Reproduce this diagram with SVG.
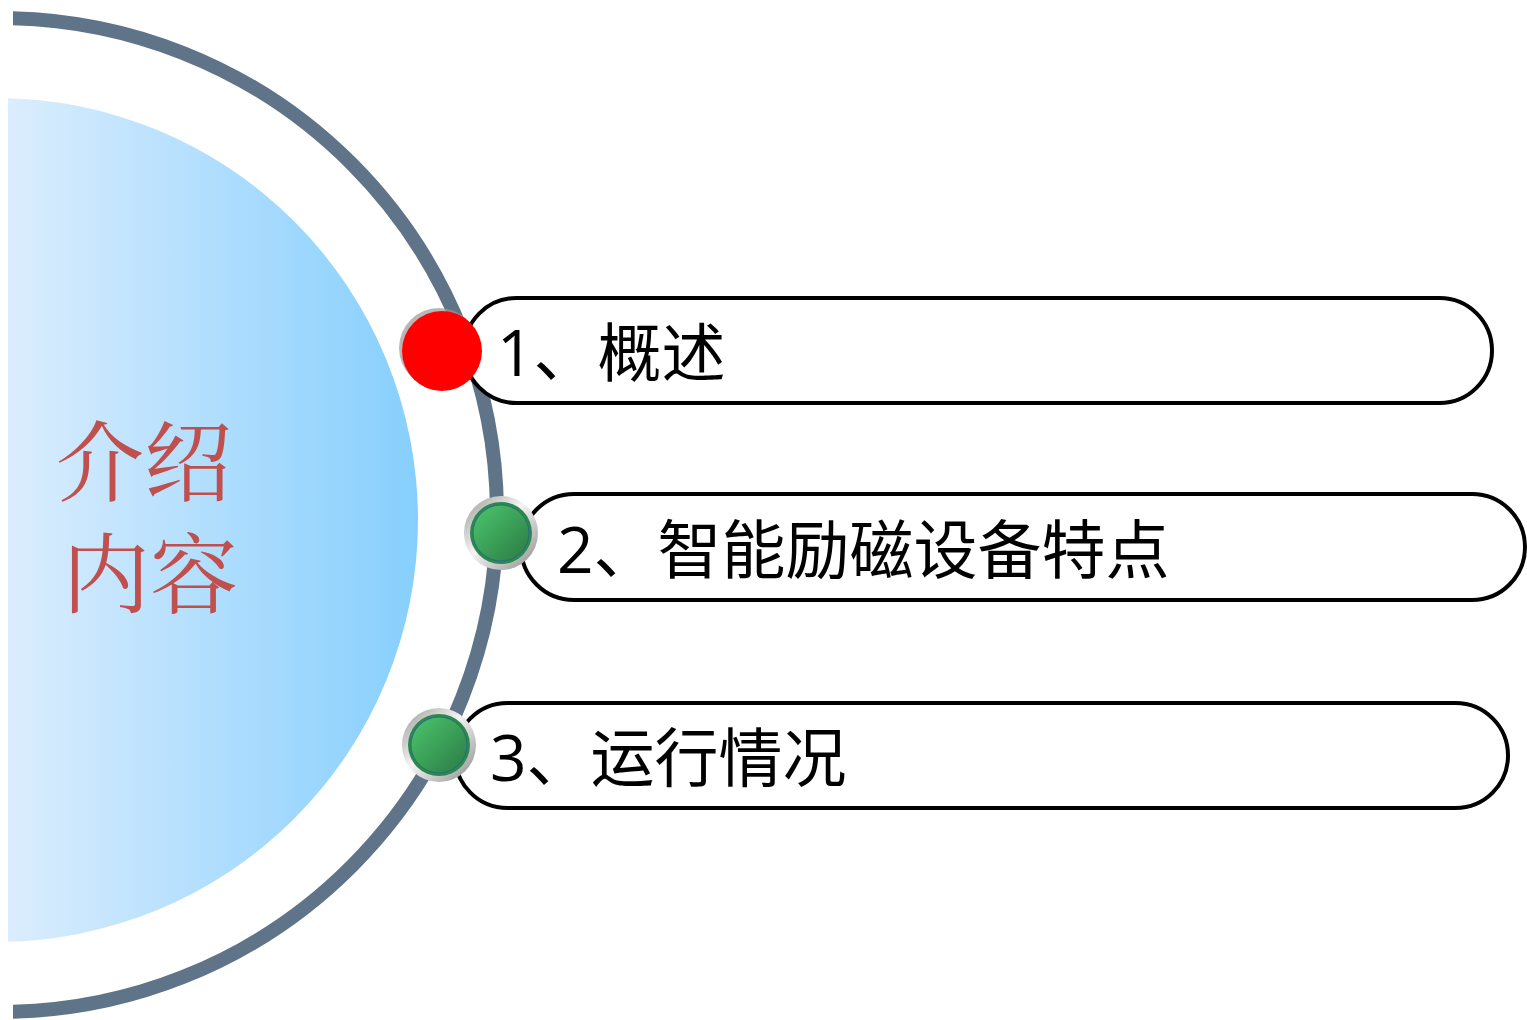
<svg xmlns="http://www.w3.org/2000/svg" width="1527" height="1020" viewBox="0 0 1527 1020">
<defs>
<linearGradient id="blue" gradientUnits="userSpaceOnUse" x1="8" y1="0" x2="418" y2="0">
<stop offset="0" stop-color="#dbedfd"/>
<stop offset="1" stop-color="#86cffd"/>
</linearGradient>
<linearGradient id="ring" x1="0" y1="0" x2="1" y2="1">
<stop offset="0" stop-color="#9a9a9a"/>
<stop offset="0.45" stop-color="#f4f4f4"/>
<stop offset="1" stop-color="#8a8a8a"/>
</linearGradient>
<linearGradient id="green" x1="0" y1="0" x2="1" y2="1">
<stop offset="0" stop-color="#4cc66c"/>
<stop offset="1" stop-color="#2a7a44"/>
</linearGradient>
<clipPath id="clipL"><rect x="8" y="0" width="1519" height="1020"/></clipPath>
<clipPath id="clipA"><rect x="13" y="0" width="1514" height="1020"/></clipPath>
<style>
.pill{fill:#fff;stroke:#000;stroke-width:4}
.lbl{font-family:"Open Sans","Noto Sans CJK SC",sans-serif;font-size:64px;fill:#000}
.title{font-family:"Noto Serif CJK SC","Liberation Serif","Noto Sans CJK SC",serif;font-size:88px;fill:#c0504d}
</style>
</defs>
<g id="background">
<circle cx="-4" cy="520" r="422" fill="url(#blue)" clip-path="url(#clipL)"/>
<circle cx="0" cy="515" r="497" fill="none" stroke="#5f7489" stroke-width="14" clip-path="url(#clipA)"/>
</g>
<g id="title">
<text class="title"><tspan x="56" y="494">介绍</tspan><tspan x="62" y="606">内容</tspan></text>
</g>
<g id="item1">
<rect class="pill" x="464" y="298" width="1028" height="105" rx="52.5"/>
<circle cx="439" cy="348" r="40" fill="#999" opacity="0.7"/>
<circle cx="442" cy="351" r="40" fill="#ff0000"/>
<text class="lbl" x="497" y="376">1、概述</text>
</g>
<g id="item2">
<rect class="pill" x="521" y="494" width="1004" height="106" rx="53"/>
<circle cx="501" cy="533" r="37" fill="url(#ring)"/>
<circle cx="501" cy="533" r="31" fill="#2a8a4a"/>
<circle cx="501" cy="533" r="28" fill="url(#green)" stroke="#2f5aa0" stroke-width="0.8"/>
<text class="lbl" x="557" y="573">2、智能励磁设备特点</text>
</g>
<g id="item3">
<rect class="pill" x="455" y="703" width="1053" height="105" rx="52.5"/>
<circle cx="439" cy="745" r="37" fill="url(#ring)"/>
<circle cx="439" cy="745" r="31" fill="#2a8a4a"/>
<circle cx="439" cy="745" r="28" fill="url(#green)" stroke="#2f5aa0" stroke-width="0.8"/>
<text class="lbl" x="490" y="781">3、运行情况</text>
</g>
<g id="connectors"/>
</svg>
